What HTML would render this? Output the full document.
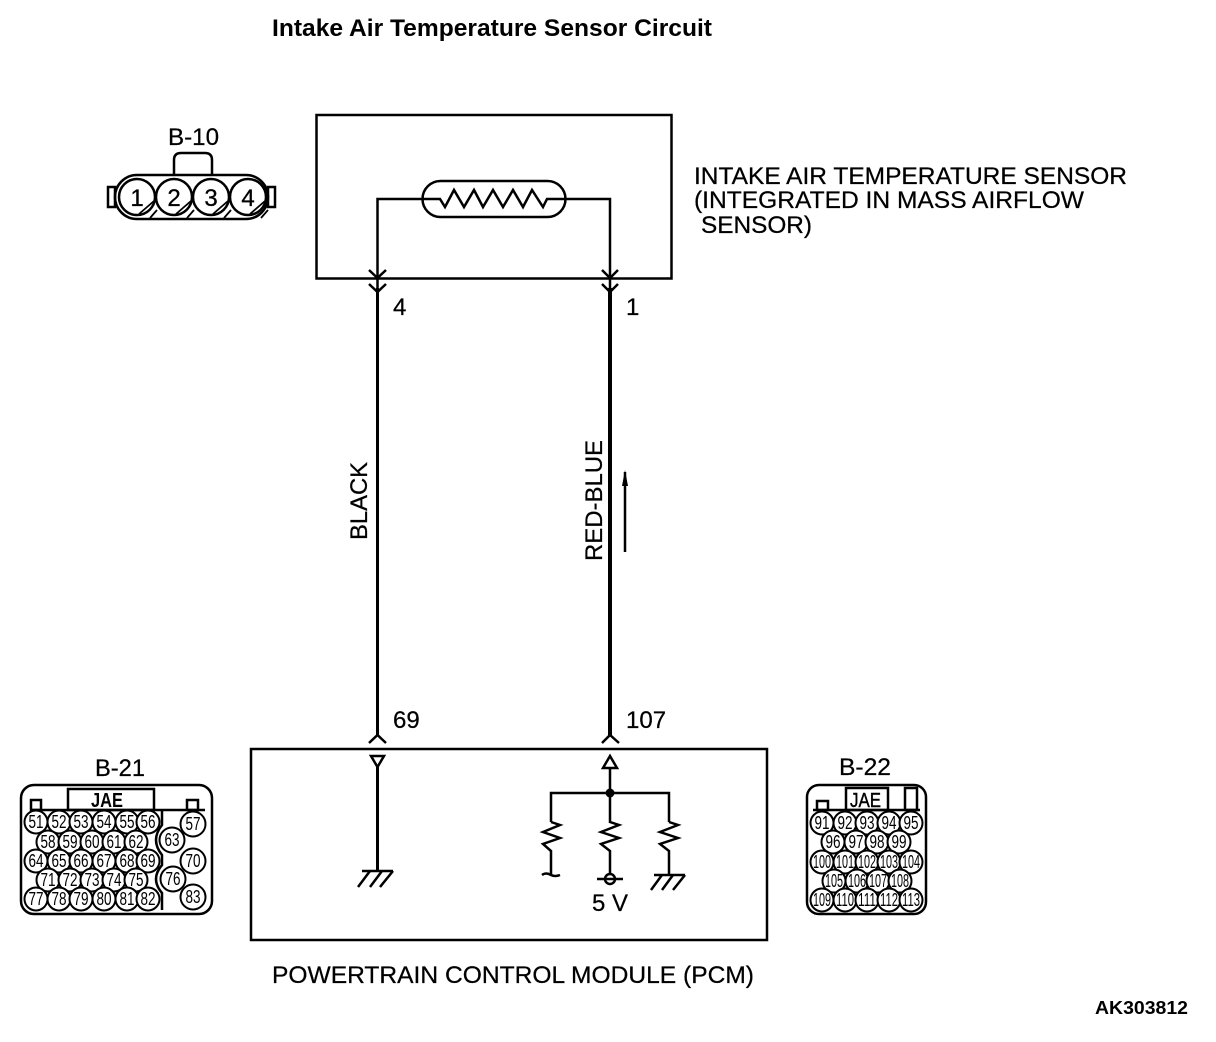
<!DOCTYPE html>
<html>
<head>
<meta charset="utf-8">
<style>
html,body{margin:0;padding:0;background:#fff;width:1216px;height:1042px;overflow:hidden}
svg{display:block}
text{font-family:"Liberation Sans",sans-serif;fill:#000}
.l{font-size:24px;stroke:#000;stroke-width:.25}
.p text{font-size:18px;text-anchor:middle}
</style>
</head>
<body>
<svg width="1216" height="1042" viewBox="0 0 1216 1042" xmlns="http://www.w3.org/2000/svg">
<g fill="none" stroke="#000" stroke-width="2.5">
<!-- sensor box -->
<rect x="316.5" y="115" width="355" height="163.5"/>
<rect x="422.5" y="181" width="143" height="36" rx="18"/>
<polyline points="377.5,290 377.5,199 440,199 445,207 454,190 464,207 474,190 483,207 493,190 503,207 513,190 523,207 532,190 543,207 547,199 610,199 610,290"/>
<!-- chevrons top -->
<polyline points="369,270 377.5,278 386,270"/>
<polyline points="369,284 377.5,292 386,284"/>
<polyline points="602,270 610,278 618,270"/>
<polyline points="602,284 610,292 618,284"/>
<line x1="377.5" y1="288" x2="377.5" y2="736" stroke-width="3"/>
<line x1="610" y1="288" x2="610" y2="736" stroke-width="4"/>
<polyline points="369,743 377.5,735 386,743"/>
<polyline points="602,743 610,735 619,743"/>
<!-- PCM -->
<rect x="251" y="749" width="516" height="191"/>
<polygon points="371,756 384,756 377.5,767"/>
<line x1="377.5" y1="767" x2="377.5" y2="871" stroke-width="3"/>
<line x1="362" y1="871" x2="393" y2="871"/>
<path d="M370 871L358 887M382 871L370 887M393 871L380 887"/>
<polygon points="610,756 603,768 617,768"/>
<line x1="610" y1="768" x2="610" y2="793"/>
<polyline points="551,822 551,793 669,793 669,822"/>
<polyline points="551,822 560,825 543,832 560,838 543,844 551,851 551,875"/>
<path d="M542 875Q546 872 551 875Q555 877 560 875"/>
<polyline points="610,793 610,822 619,825 601,832 619,838 601,844 610,851 610,874"/>
<polyline points="669,822 678,825 660,832 678,838 660,844 669,851 669,875"/>
<line x1="654" y1="875" x2="685" y2="875"/>
<path d="M662 875L651 890M673 875L662 890M685 875L673 890"/>
<circle cx="610" cy="879" r="5"/>
<line x1="597" y1="879" x2="623" y2="879"/>
<!-- current arrow -->
<line x1="625" y1="472" x2="625" y2="552"/>
<!-- B-10 -->
<path d="M174 175V160Q174 153 181 153H205Q212 153 212 160V175"/>
<rect x="115" y="175" width="153" height="44" rx="22"/>
<rect x="108" y="187" width="7" height="20"/>
<rect x="268" y="187" width="7" height="20"/>
<circle cx="137" cy="197" r="18" fill="#fff"/>
<circle cx="174" cy="197" r="18" fill="#fff"/>
<circle cx="211" cy="197" r="18" fill="#fff"/>
<circle cx="248" cy="197" r="18" fill="#fff"/>
<path d="M139 214L154 201M176 214L191 201M213 214L228 201M250 214L265 201M150 218L157 210M187 218L194 210M224 218L231 210M261 218L268 210" stroke-width="1.8"/>
<!-- B-21 -->
<rect x="21" y="785" width="191" height="129" rx="13"/>
<rect x="68" y="789" width="86" height="21"/>
<rect x="31" y="800" width="10" height="10"/>
<rect x="187" y="800" width="11" height="10"/>
<line x1="30" y1="810" x2="205" y2="810"/>
<path d="M162 810V825Q150 840 162 855V865Q150 879 162 893V910"/>
<g fill="#fff" stroke-width="2">
<circle cx="36" cy="822" r="11.5"/><circle cx="59" cy="822" r="11.5"/><circle cx="81" cy="822" r="11.5"/><circle cx="104" cy="822" r="11.5"/><circle cx="127" cy="822" r="11.5"/><circle cx="148" cy="822" r="11.5"/>
<circle cx="48" cy="842" r="11.5"/><circle cx="70" cy="842" r="11.5"/><circle cx="92" cy="842" r="11.5"/><circle cx="114" cy="842" r="11.5"/><circle cx="136" cy="842" r="11.5"/>
<circle cx="36" cy="861" r="11.5"/><circle cx="59" cy="861" r="11.5"/><circle cx="81" cy="861" r="11.5"/><circle cx="104" cy="861" r="11.5"/><circle cx="127" cy="861" r="11.5"/><circle cx="148" cy="861" r="11.5"/>
<circle cx="48" cy="880" r="11.5"/><circle cx="70" cy="880" r="11.5"/><circle cx="92" cy="880" r="11.5"/><circle cx="114" cy="880" r="11.5"/><circle cx="136" cy="880" r="11.5"/>
<circle cx="36" cy="899" r="11.5"/><circle cx="59" cy="899" r="11.5"/><circle cx="81" cy="899" r="11.5"/><circle cx="104" cy="899" r="11.5"/><circle cx="127" cy="899" r="11.5"/><circle cx="148" cy="899" r="11.5"/>
<circle cx="193" cy="824" r="12.5"/><circle cx="172" cy="840" r="12.5"/><circle cx="193" cy="861" r="12.5"/><circle cx="173" cy="879" r="12.5"/><circle cx="193" cy="897" r="12.5"/>
</g>
<!-- B-22 -->
<rect x="807" y="785" width="119" height="129" rx="12"/>
<rect x="846" y="788" width="42" height="22"/>
<rect x="817" y="801" width="11" height="9"/>
<rect x="905" y="788" width="12" height="22"/>
<line x1="813" y1="810" x2="920" y2="810"/>
<g fill="#fff" stroke-width="2">
<circle cx="822" cy="823" r="11.5"/><circle cx="845" cy="823" r="11.5"/><circle cx="867" cy="823" r="11.5"/><circle cx="889" cy="823" r="11.5"/><circle cx="911" cy="823" r="11.5"/>
<circle cx="833" cy="842" r="11.5"/><circle cx="856" cy="842" r="11.5"/><circle cx="877" cy="842" r="11.5"/><circle cx="899" cy="842" r="11.5"/>
<circle cx="822" cy="862" r="11.5"/><circle cx="845" cy="862" r="11.5"/><circle cx="867" cy="862" r="11.5"/><circle cx="889" cy="862" r="11.5"/><circle cx="911" cy="862" r="11.5"/>
<circle cx="834" cy="881" r="11.5"/><circle cx="857" cy="881" r="11.5"/><circle cx="878" cy="881" r="11.5"/><circle cx="900" cy="881" r="11.5"/>
<circle cx="822" cy="900" r="11.5"/><circle cx="845" cy="900" r="11.5"/><circle cx="867" cy="900" r="11.5"/><circle cx="889" cy="900" r="11.5"/><circle cx="911" cy="900" r="11.5"/>
</g>
</g>
<circle cx="610" cy="793" r="4.5" fill="#000"/>
<polygon points="625,470 622,486 628,486" fill="#000"/>

<text x="272" y="36" font-size="24" font-weight="bold" textLength="440" lengthAdjust="spacingAndGlyphs">Intake Air Temperature Sensor Circuit</text>
<text class="l" x="168" y="145" textLength="51" lengthAdjust="spacingAndGlyphs">B-10</text>
<text class="l" x="694" y="184" textLength="433" lengthAdjust="spacingAndGlyphs">INTAKE AIR TEMPERATURE SENSOR</text>
<text class="l" x="694" y="208" textLength="390" lengthAdjust="spacingAndGlyphs">(INTEGRATED IN MASS AIRFLOW</text>
<text class="l" x="701" y="233" textLength="111" lengthAdjust="spacingAndGlyphs">SENSOR)</text>
<text class="l" x="393" y="315">4</text>
<text class="l" x="626" y="315">1</text>
<text class="l" x="393" y="728">69</text>
<text class="l" x="626" y="728">107</text>
<text class="l" transform="translate(367 540) rotate(-90)" textLength="78" lengthAdjust="spacingAndGlyphs">BLACK</text>
<text class="l" transform="translate(602 561) rotate(-90)" textLength="121" lengthAdjust="spacingAndGlyphs">RED-BLUE</text>
<text class="l" x="95" y="776" textLength="50" lengthAdjust="spacingAndGlyphs">B-21</text>
<text class="l" x="839" y="775" textLength="52" lengthAdjust="spacingAndGlyphs">B-22</text>
<text class="l" x="592" y="911" textLength="36" lengthAdjust="spacingAndGlyphs">5 V</text>
<text class="l" x="272" y="983" textLength="482" lengthAdjust="spacingAndGlyphs">POWERTRAIN CONTROL MODULE (PCM)</text>
<text x="1095" y="1014" font-size="18" font-weight="bold" textLength="93" lengthAdjust="spacingAndGlyphs">AK303812</text>

<!-- B-10 pins -->
<g font-size="24" text-anchor="middle" stroke="#000" stroke-width=".3">
<text x="137" y="206">1</text><text x="174" y="206">2</text><text x="211" y="206">3</text><text x="248" y="206">4</text>
</g>
<text x="91" y="807" font-size="20" font-weight="bold" textLength="32" lengthAdjust="spacingAndGlyphs">JAE</text>
<text x="850" y="807" font-size="20" textLength="31" lengthAdjust="spacingAndGlyphs" stroke="#000" stroke-width=".4">JAE</text>

<!-- B-21 pins -->
<g class="p">
<text x="36" y="828" textLength="15" lengthAdjust="spacingAndGlyphs">51</text><text x="59" y="828" textLength="15" lengthAdjust="spacingAndGlyphs">52</text><text x="81" y="828" textLength="15" lengthAdjust="spacingAndGlyphs">53</text><text x="104" y="828" textLength="15" lengthAdjust="spacingAndGlyphs">54</text><text x="127" y="828" textLength="15" lengthAdjust="spacingAndGlyphs">55</text><text x="148" y="828" textLength="15" lengthAdjust="spacingAndGlyphs">56</text>
<text x="48" y="848" textLength="15" lengthAdjust="spacingAndGlyphs">58</text><text x="70" y="848" textLength="15" lengthAdjust="spacingAndGlyphs">59</text><text x="92" y="848" textLength="15" lengthAdjust="spacingAndGlyphs">60</text><text x="114" y="848" textLength="15" lengthAdjust="spacingAndGlyphs">61</text><text x="136" y="848" textLength="15" lengthAdjust="spacingAndGlyphs">62</text>
<text x="36" y="867" textLength="15" lengthAdjust="spacingAndGlyphs">64</text><text x="59" y="867" textLength="15" lengthAdjust="spacingAndGlyphs">65</text><text x="81" y="867" textLength="15" lengthAdjust="spacingAndGlyphs">66</text><text x="104" y="867" textLength="15" lengthAdjust="spacingAndGlyphs">67</text><text x="127" y="867" textLength="15" lengthAdjust="spacingAndGlyphs">68</text><text x="148" y="867" textLength="15" lengthAdjust="spacingAndGlyphs">69</text>
<text x="48" y="886" textLength="15" lengthAdjust="spacingAndGlyphs">71</text><text x="70" y="886" textLength="15" lengthAdjust="spacingAndGlyphs">72</text><text x="92" y="886" textLength="15" lengthAdjust="spacingAndGlyphs">73</text><text x="114" y="886" textLength="15" lengthAdjust="spacingAndGlyphs">74</text><text x="136" y="886" textLength="15" lengthAdjust="spacingAndGlyphs">75</text>
<text x="36" y="905" textLength="15" lengthAdjust="spacingAndGlyphs">77</text><text x="59" y="905" textLength="15" lengthAdjust="spacingAndGlyphs">78</text><text x="81" y="905" textLength="15" lengthAdjust="spacingAndGlyphs">79</text><text x="104" y="905" textLength="15" lengthAdjust="spacingAndGlyphs">80</text><text x="127" y="905" textLength="15" lengthAdjust="spacingAndGlyphs">81</text><text x="148" y="905" textLength="15" lengthAdjust="spacingAndGlyphs">82</text>
<text x="193" y="830" textLength="15" lengthAdjust="spacingAndGlyphs">57</text><text x="172" y="846" textLength="15" lengthAdjust="spacingAndGlyphs">63</text><text x="193" y="867" textLength="15" lengthAdjust="spacingAndGlyphs">70</text><text x="173" y="885" textLength="15" lengthAdjust="spacingAndGlyphs">76</text><text x="193" y="903" textLength="15" lengthAdjust="spacingAndGlyphs">83</text>
</g>
<!-- B-22 pins -->
<g class="p">
<text x="822" y="829" textLength="15" lengthAdjust="spacingAndGlyphs">91</text><text x="845" y="829" textLength="15" lengthAdjust="spacingAndGlyphs">92</text><text x="867" y="829" textLength="15" lengthAdjust="spacingAndGlyphs">93</text><text x="889" y="829" textLength="15" lengthAdjust="spacingAndGlyphs">94</text><text x="911" y="829" textLength="15" lengthAdjust="spacingAndGlyphs">95</text>
<text x="833" y="848" textLength="15" lengthAdjust="spacingAndGlyphs">96</text><text x="856" y="848" textLength="15" lengthAdjust="spacingAndGlyphs">97</text><text x="877" y="848" textLength="15" lengthAdjust="spacingAndGlyphs">98</text><text x="899" y="848" textLength="15" lengthAdjust="spacingAndGlyphs">99</text>
<text x="822" y="868" textLength="18" lengthAdjust="spacingAndGlyphs">100</text><text x="845" y="868" textLength="18" lengthAdjust="spacingAndGlyphs">101</text><text x="867" y="868" textLength="18" lengthAdjust="spacingAndGlyphs">102</text><text x="889" y="868" textLength="18" lengthAdjust="spacingAndGlyphs">103</text><text x="911" y="868" textLength="18" lengthAdjust="spacingAndGlyphs">104</text>
<text x="834" y="887" textLength="18" lengthAdjust="spacingAndGlyphs">105</text><text x="857" y="887" textLength="18" lengthAdjust="spacingAndGlyphs">106</text><text x="878" y="887" textLength="18" lengthAdjust="spacingAndGlyphs">107</text><text x="900" y="887" textLength="18" lengthAdjust="spacingAndGlyphs">108</text>
<text x="822" y="906" textLength="18" lengthAdjust="spacingAndGlyphs">109</text><text x="845" y="906" textLength="18" lengthAdjust="spacingAndGlyphs">110</text><text x="867" y="906" textLength="18" lengthAdjust="spacingAndGlyphs">111</text><text x="889" y="906" textLength="18" lengthAdjust="spacingAndGlyphs">112</text><text x="911" y="906" textLength="18" lengthAdjust="spacingAndGlyphs">113</text>
</g>
</svg>
</body>
</html>
